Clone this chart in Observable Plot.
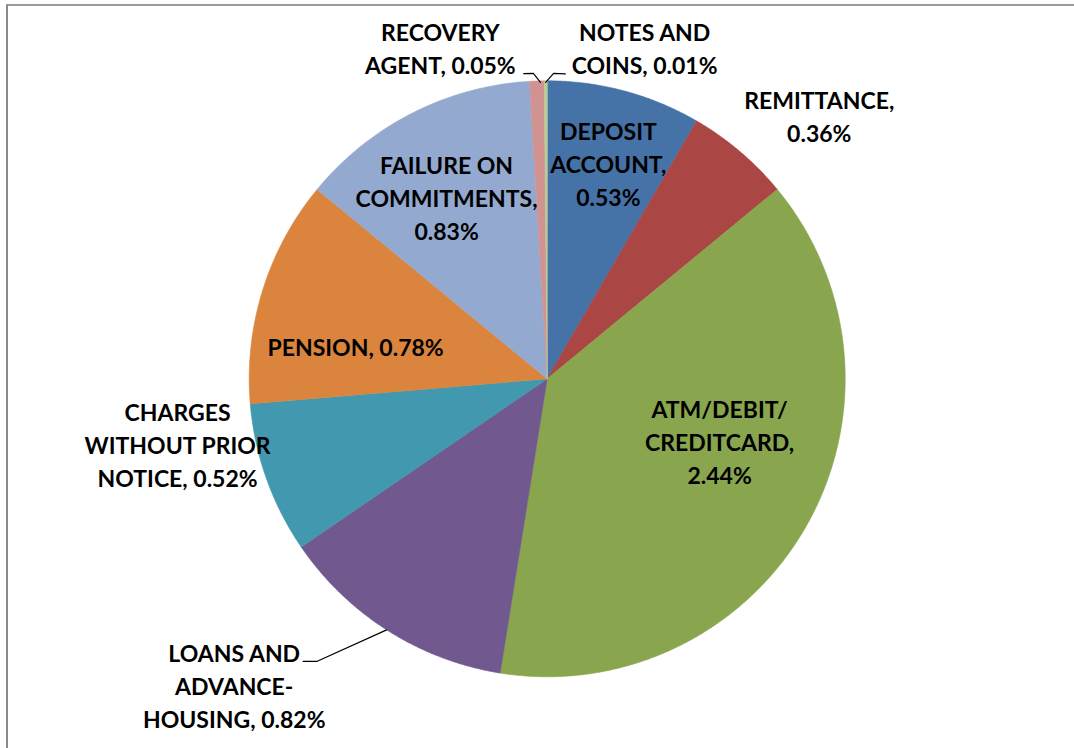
<!DOCTYPE html>
<html>
<head>
<meta charset="utf-8">
<script src="https://cdn.jsdelivr.net/npm/d3@7"></script>
<script src="https://cdn.jsdelivr.net/npm/@observablehq/plot@0.6"></script>
<style>
  html, body { margin: 0; padding: 0; background: #fff; overflow: hidden; }
  #wrap { position: relative; width: 1074px; height: 748px; overflow: hidden; }
  #frame { position: absolute; left: 6px; top: 4px; width: 1200px; height: 900px;
           border-left: 2px solid #8a8a8a; border-top: 2px solid #9a9a9a; pointer-events: none; }
</style>
</head>
<body>
<div id="wrap"><div id="frame"></div></div>
<script>
// ---- data ----
const categories = [
  "DEPOSIT\nACCOUNT", "REMITTANCE", "ATM/DEBIT/\nCREDITCARD", "LOANS AND\nADVANCE-\nHOUSING",
  "CHARGES\nWITHOUT PRIOR\nNOTICE", "PENSION", "FAILURE ON\nCOMMITMENTS", "RECOVERY\nAGENT", "NOTES AND\nCOINS"
];
const values = [0.53, 0.36, 2.44, 0.82, 0.52, 0.78, 0.83, 0.05, 0.01];
const separators = ["\n", "\n", "\n", " ", " ", " ", "\n", " ", " "];
const colors = ["#4572A7", "#AA4643", "#89A54E", "#71588F", "#4198AF", "#DB843D", "#93A9CF", "#D19392", "#B9CD96"];

// ---- layout (label placement in polar form: angle in degrees clockwise from top, radius as fraction of R) ----
const labelAngle  = [16.0, 46.2, 110.6, 225.4, 259.6, 279.0, 330.7, 342.0, 16.5];
const labelRadius = [0.745, 1.265, 0.618, 1.475, 1.261, 0.651, 0.69, 1.16, 1.151];
// leader lines: [category index, [[angleDeg, r], ...]]
const leaders = [
  [3, [[212.6, 1.0], [219.2, 1.224], [220.8, 1.253]]],
  [7, [[358.7, 0.995], [357.4, 1.026], [355.6, 1.027]]],
  [8, [[359.7, 0.995], [1.2, 1.025], [3.4, 1.025]]]
];

const W = 1074, H = 748, CX = 546.7, CY = 378.3, R = 298;
const fontSize = 23;

const total = d3.sum(values);
const rad = d => d * Math.PI / 180;
const px = (a, r) => Math.sin(a) * r;
const py = (a, r) => Math.cos(a) * r;

// slice polygons (unit circle coordinates)
const slices = [];
let acc = 0;
values.forEach((v, i) => {
  const a0 = acc / total * 2 * Math.PI;
  acc += v;
  const a1 = acc / total * 2 * Math.PI;
  const n = Math.max(2, Math.ceil((a1 - a0) / rad(0.5)));
  slices.push({name: categories[i], x: 0, y: 0});
  for (let k = 0; k <= n; k++) {
    const a = a0 + (a1 - a0) * k / n;
    slices.push({name: categories[i], x: px(a, 1), y: py(a, 1)});
  }
});

const labels = categories.map((c, i) => ({
  text: c + "," + separators[i] + values[i].toFixed(2) + "%",
  x: px(rad(labelAngle[i]), labelRadius[i]),
  y: py(rad(labelAngle[i]), labelRadius[i])
}));

const leaderPts = leaders.flatMap(([i, pts]) =>
  pts.map(([a, r]) => ({id: i, x: px(rad(a), r), y: py(rad(a), r)})));

const chart = Plot.plot({
  width: W, height: H,
  margin: 0,
  x: {domain: [-CX / R, (W - CX) / R], axis: null},
  y: {domain: [-(H - CY) / R, CY / R], axis: null},
  color: {domain: categories, range: colors},
  style: {background: "transparent"},
  marks: [
    Plot.line(slices, {x: "x", y: "y", z: "name", fill: "name", stroke: "name", strokeWidth: 0.6, curve: "linear-closed"}),
    Plot.line(leaderPts, {x: "x", y: "y", z: "id", stroke: "black", strokeWidth: 1.2}),
    Plot.text(labels, {
      x: "x", y: "y", text: "text", dy: -3,
      fontFamily: "Lato", fontWeight: "bold", fontSize: fontSize,
      lineHeight: 33 / fontSize, fill: "black", textAnchor: "middle", lineAnchor: "middle"
    })
  ]
});
chart.style.position = "absolute";
chart.style.left = "0px";
chart.style.top = "0px";
document.getElementById("wrap").insertBefore(chart, document.getElementById("frame"));
</script>
</body>
</html>
